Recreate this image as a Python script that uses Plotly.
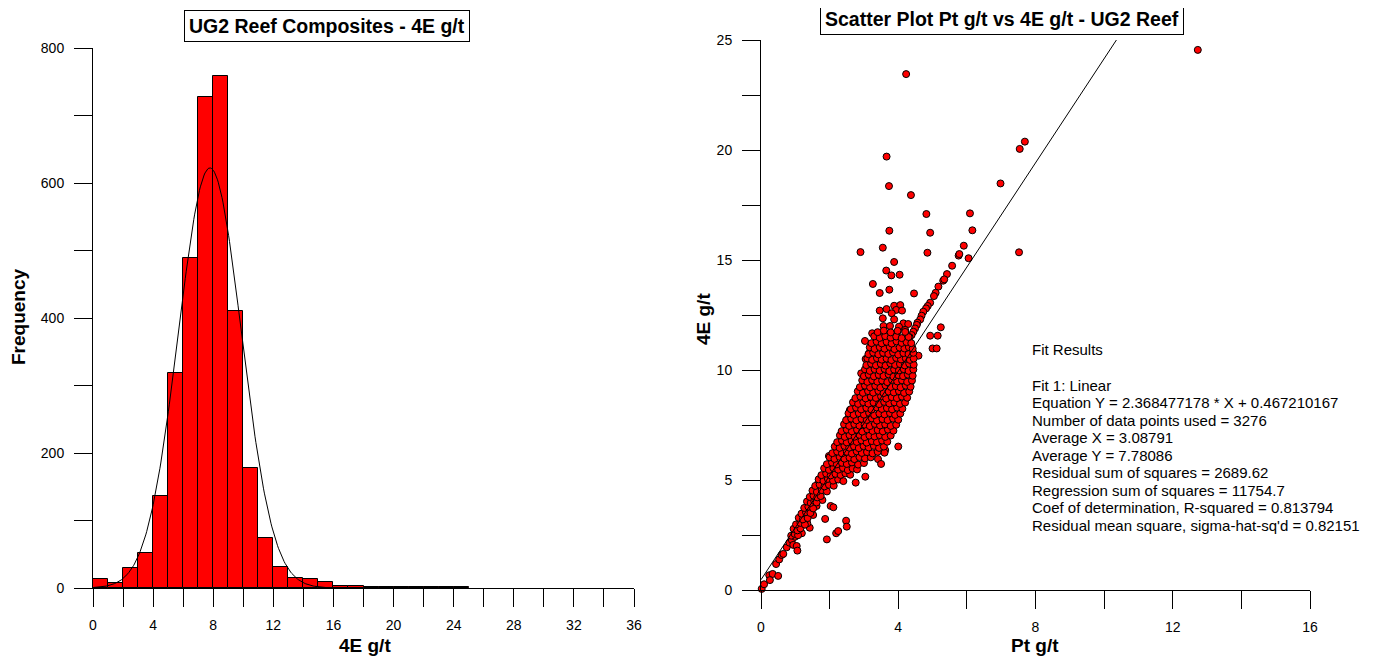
import numpy as np
import plotly.graph_objects as go

# ---------------- Histogram data ----------------
hist_left_edges = list(range(0, 25))
hist_counts = [13, 8, 29, 52, 136, 319, 489, 727, 758, 410, 178, 74, 31, 15, 13, 9,
               3, 3, 2, 1, 2, 1, 1, 1, 1]
bin_width = 1.0
fit_mean = 7.78086
fit_sigma = 2.1
n_points = 3276

hist_xticks = list(range(0, 37, 2))
hist_xlabels = [str(v) if v % 4 == 0 else "" for v in hist_xticks]
hist_yticks = list(range(0, 801, 100))
hist_ylabels = [str(v) if v % 200 == 0 else "" for v in hist_yticks]

# ---------------- Scatter data ----------------
# individually read (sparse) points
sparse_x = [12.73, 4.23, 3.66, 3.73, 4.37, 7.54, 7.69, 6.98, 7.52, 2.90, 3.55, 4.82, 6.09, 3.74,
            4.93, 6.16, 4.85, 5.91, 5.76, 5.78, 6.05, 5.57, 5.42, 5.31, 5.34, 3.88, 3.65, 3.80,
            4.04, 3.26, 3.74, 3.46, 4.46, 5.17, 5.09, 5.04, 4.93, 4.86, 4.81, 4.73, 4.68, 4.64,
            4.56, 4.54, 4.49, 4.44, 4.39, 4.33, 3.46, 3.66, 3.88, 4.06, 3.94, 4.11, 3.81, 3.55,
            3.88, 3.57, 3.76, 4.15, 4.29, 4.02, 3.24, 3.37, 3.52, 3.76, 3.96, 4.20, 5.24, 4.93,
            5.15, 5.00, 5.12, 4.59, 3.03, 3.15, 3.05, 2.92, 3.08, 2.94, 2.59, 2.52, 2.55, 2.35,
            1.92, 2.19, 2.25, 2.48, 2.50, 1.87, 2.03, 2.11, 1.42, 1.35, 1.52, 1.62, 1.79, 3.04,
            2.76, 3.41, 3.50, 3.62, 3.60, 4.00, 3.57, 1.68, 1.63, 1.98,
            0.02, 0.09, 0.24, 0.34, 0.26, 0.50, 0.44, 0.53, 0.60, 0.65, 0.75, 0.83, 0.90, 0.94,
            1.04, 1.06, 0.99, 1.02, 1.19, 1.09, 1.14]
sparse_y = [24.55, 23.45, 19.70, 18.36, 17.95, 20.05, 20.38, 18.48, 15.35, 15.36, 15.56, 17.09,
            17.12, 16.33, 16.24, 16.35, 15.33, 15.65, 15.20, 15.27, 15.08, 14.74, 14.36, 14.06,
            14.12, 14.91, 14.52, 14.30, 14.33, 13.91, 13.65, 13.50, 13.48, 13.79, 13.51, 13.36,
            13.06, 12.91, 12.80, 12.65, 12.47, 12.30, 12.15, 12.05, 11.89, 11.74, 11.59, 11.49,
            12.70, 12.77, 12.92, 12.95, 12.73, 12.70, 12.58, 12.35, 12.30, 12.00, 12.00, 12.12,
            12.09, 11.97, 11.67, 11.59, 11.67, 11.67, 11.67, 11.82, 11.94, 11.56, 11.56, 10.98,
            10.98, 10.65, 11.32, 10.76, 10.50, 9.85, 9.97, 8.99, 8.18, 7.76, 7.60, 6.97,
            2.30, 2.58, 2.68, 3.15, 2.88, 3.23, 3.82, 3.76, 2.83, 3.03, 3.41, 3.82, 4.09, 5.15,
            4.88, 5.95, 5.73, 6.36, 6.24, 6.52, 6.79, 4.92, 4.58, 6.09,
            0.05, 0.26, 0.67, 0.73, 0.45, 0.64, 1.18, 1.39, 1.59, 1.64, 1.94, 2.15, 2.27, 2.05,
            2.00, 1.79, 2.42, 2.58, 2.58, 2.73, 2.88]

# dense core, read row by row: Pt values (x) and matching 4E values (y)
core_x_rows = [
    [0.88, 0.98, 1.08],
    [0.95, 1.06, 1.15],
    [1.02, 1.15, 1.28],
    [1.1, 1.22, 1.36],
    [1.18, 1.31, 1.44],
    [1.26, 1.38, 1.52],
    [1.34, 1.45, 1.55, 1.62],
    [1.42, 1.53, 1.64, 1.74],
    [1.5, 1.63, 1.77, 1.92],
    [1.58, 1.71, 1.85, 1.98, 2.12],
    [1.68, 1.82, 1.95, 2.1, 2.25, 2.4],
    [1.76, 1.9, 2.03, 2.17, 2.32, 2.46, 2.6],
    [1.84, 1.98, 2.11, 2.25, 2.39, 2.53, 2.67, 2.8],
    [1.92, 2.07, 2.21, 2.36, 2.5, 2.65, 2.83, 3.0],
    [2.0, 2.14, 2.29, 2.43, 2.58, 2.72, 2.87, 3.03, 3.2],
    [2.08, 2.22, 2.36, 2.5, 2.65, 2.79, 2.94, 3.09, 3.25, 3.4],
    [2.15, 2.29, 2.43, 2.57, 2.71, 2.85, 2.99, 3.14, 3.29, 3.44, 3.58],
    [2.22, 2.36, 2.5, 2.64, 2.79, 2.93, 3.08, 3.23, 3.38, 3.53, 3.68],
    [2.3, 2.44, 2.58, 2.73, 2.87, 3.02, 3.16, 3.31, 3.46, 3.62, 3.78],
    [2.35, 2.5, 2.65, 2.8, 2.95, 3.1, 3.25, 3.4, 3.55, 3.7, 3.86],
    [2.42, 2.57, 2.72, 2.87, 3.02, 3.17, 3.32, 3.47, 3.62, 3.78, 3.94],
    [2.48, 2.63, 2.78, 2.93, 3.08, 3.23, 3.38, 3.54, 3.69, 3.85, 4.0],
    [2.55, 2.7, 2.85, 3.0, 3.15, 3.3, 3.45, 3.6, 3.76, 3.91, 4.06],
    [2.62, 2.77, 2.92, 3.07, 3.22, 3.37, 3.52, 3.67, 3.82, 3.97, 4.12],
    [2.68, 2.83, 2.98, 3.13, 3.28, 3.44, 3.59, 3.74, 3.89, 4.05, 4.2],
    [2.75, 2.9, 3.05, 3.2, 3.35, 3.5, 3.65, 3.81, 3.96, 4.11, 4.26],
    [2.82, 2.97, 3.12, 3.27, 3.42, 3.57, 3.72, 3.87, 4.02, 4.17, 4.32],
    [2.88, 3.03, 3.18, 3.33, 3.48, 3.63, 3.78, 3.93, 4.07, 4.22, 4.36],
    [2.95, 3.1, 3.24, 3.39, 3.53, 3.68, 3.82, 3.97, 4.11, 4.26, 4.4],
    [3.0, 3.14, 3.29, 3.43, 3.57, 3.72, 3.86, 4.0, 4.14, 4.28, 4.42],
    [3.03, 3.17, 3.31, 3.46, 3.6, 3.74, 3.88, 4.02, 4.16, 4.3, 4.44],
    [3.07, 3.21, 3.35, 3.49, 3.63, 3.77, 3.91, 4.05, 4.19, 4.32, 4.45],
    [3.1, 3.24, 3.38, 3.52, 3.66, 3.8, 3.94, 4.08, 4.22, 4.34, 4.45],
    [3.13, 3.27, 3.42, 3.56, 3.71, 3.85, 4.0, 4.15, 4.3, 4.44],
    [3.17, 3.31, 3.46, 3.6, 3.75, 3.89, 4.04, 4.18, 4.31, 4.42],
    [3.22, 3.37, 3.52, 3.66, 3.81, 3.95, 4.1, 4.24, 4.38],
    [3.3, 3.46, 3.62, 3.78, 3.94, 4.1, 4.3],
    [3.4, 3.58, 3.78, 3.98, 4.2],
]
core_y_rows = [
    [2.47, 2.55, 2.49],
    [2.78, 2.71, 2.8],
    [2.98, 3.05, 2.97],
    [3.28, 3.21, 3.27],
    [3.47, 3.54, 3.5],
    [3.73, 3.79, 3.71],
    [4.02, 3.96, 4.05, 3.98],
    [4.23, 4.29, 4.21, 4.27],
    [4.52, 4.46, 4.54, 4.48],
    [4.73, 4.79, 4.71, 4.78, 4.74],
    [5.03, 4.96, 5.05, 4.97, 5.02, 4.95],
    [5.22, 5.29, 5.21, 5.28, 5.23, 5.3, 5.24],
    [5.53, 5.46, 5.54, 5.47, 5.55, 5.45, 5.52, 5.48],
    [5.72, 5.79, 5.71, 5.78, 5.73, 5.8, 5.7, 5.77],
    [6.03, 5.96, 6.05, 5.97, 6.02, 5.95, 6.04, 5.98, 6.03],
    [6.22, 6.29, 6.21, 6.28, 6.2, 6.3, 6.23, 6.27, 6.21, 6.28],
    [6.52, 6.46, 6.55, 6.47, 6.53, 6.45, 6.54, 6.48, 6.55, 6.46, 6.52],
    [6.72, 6.79, 6.71, 6.78, 6.73, 6.8, 6.7, 6.77, 6.72, 6.79, 6.74],
    [7.03, 6.96, 7.04, 6.97, 7.05, 6.95, 7.02, 6.98, 7.04, 6.96, 7.02],
    [7.22, 7.29, 7.21, 7.28, 7.2, 7.3, 7.23, 7.27, 7.21, 7.29, 7.24],
    [7.53, 7.46, 7.54, 7.47, 7.52, 7.45, 7.55, 7.48, 7.53, 7.46, 7.51],
    [7.72, 7.79, 7.71, 7.78, 7.73, 7.8, 7.7, 7.77, 7.72, 7.79, 7.74],
    [8.03, 7.96, 8.04, 7.97, 8.05, 7.95, 8.02, 7.98, 8.04, 7.96, 8.02],
    [8.22, 8.29, 8.21, 8.28, 8.2, 8.3, 8.23, 8.27, 8.21, 8.29, 8.24],
    [8.53, 8.46, 8.54, 8.47, 8.52, 8.45, 8.55, 8.48, 8.53, 8.46, 8.52],
    [8.72, 8.79, 8.71, 8.78, 8.73, 8.8, 8.7, 8.77, 8.72, 8.79, 8.74],
    [9.03, 8.96, 9.04, 8.97, 9.05, 8.95, 9.02, 8.98, 9.04, 8.96, 9.02],
    [9.22, 9.29, 9.21, 9.28, 9.2, 9.3, 9.23, 9.27, 9.21, 9.29, 9.24],
    [9.53, 9.46, 9.54, 9.47, 9.52, 9.45, 9.55, 9.48, 9.53, 9.46, 9.52],
    [9.72, 9.79, 9.71, 9.78, 9.73, 9.8, 9.7, 9.77, 9.72, 9.79, 9.74],
    [10.03, 9.96, 10.04, 9.97, 10.05, 9.95, 10.02, 9.98, 10.04, 9.96, 10.02],
    [10.22, 10.29, 10.21, 10.28, 10.2, 10.3, 10.23, 10.27, 10.21, 10.29, 10.24],
    [10.53, 10.46, 10.54, 10.47, 10.52, 10.45, 10.55, 10.48, 10.53, 10.46, 10.52],
    [10.72, 10.79, 10.71, 10.78, 10.73, 10.8, 10.7, 10.77, 10.72, 10.78],
    [11.03, 10.96, 11.04, 10.97, 11.05, 10.95, 11.02, 10.98, 11.04, 10.97],
    [11.22, 11.29, 11.21, 11.28, 11.2, 11.3, 11.23, 11.27, 11.22],
    [11.53, 11.46, 11.54, 11.47, 11.52, 11.45, 11.5],
    [11.72, 11.79, 11.71, 11.78, 11.73],
]

fit_slope = 2.368477178
fit_intercept = 0.467210167

sc_xticks = list(range(0, 17, 2))
sc_xlabels = [str(v) if v % 4 == 0 else "" for v in sc_xticks]
sc_yticks = [0, 2.5, 5, 7.5, 10, 12.5, 15, 17.5, 20, 22.5, 25]
sc_ylabels = ["0", "", "5", "", "10", "", "15", "", "20", "", "25"]

fit_text_lines = [
    "Fit Results",
    "",
    "Fit 1: Linear",
    "Equation Y = 2.368477178 * X + 0.467210167",
    "Number of data points used = 3276",
    "Average X = 3.08791",
    "Average Y = 7.78086",
    "Residual sum of squares = 2689.62",
    "Regression sum of squares = 11754.7",
    "Coef of determination, R-squared = 0.813794",
    "Residual mean square, sigma-hat-sq'd = 0.82151",
]

# ---------------- Build figure ----------------
PAGE_OFFSET = 8          # default body margin of the html page
W, H = 1386 - PAGE_OFFSET, 659 - PAGE_OFFSET
FONT = "Liberation Sans, Arial, sans-serif"

def px_x(p):
    return (p - PAGE_OFFSET) / W

def px_y(p):
    return 1 - (p - PAGE_OFFSET) / H

fig = go.Figure()

# Histogram bars
fig.add_trace(go.Bar(
    x=[e + bin_width / 2 for e in hist_left_edges], y=hist_counts, width=bin_width,
    marker=dict(color="#ff0000", line=dict(color="black", width=1)),
    xaxis="x", yaxis="y", showlegend=False, hoverinfo="x+y"))

# Fitted normal curve (from the sample mean, sigma and count)
cx = np.linspace(0, 25, 400)
cy = n_points * bin_width / (fit_sigma * np.sqrt(2 * np.pi)) * np.exp(-0.5 * ((cx - fit_mean) / fit_sigma) ** 2)
fig.add_trace(go.Scatter(x=cx, y=cy, mode="lines", line=dict(color="black", width=1),
                         xaxis="x", yaxis="y", showlegend=False, hoverinfo="skip"))

# Scatter points
all_x = list(sparse_x)
all_y = list(sparse_y)
for rxs, rys in zip(core_x_rows, core_y_rows):
    all_x.extend(rxs)
    all_y.extend(rys)

fig.add_trace(go.Scatter(
    x=all_x, y=all_y, mode="markers",
    marker=dict(color="#ff0000", size=7, line=dict(color="black", width=1)),
    xaxis="x2", yaxis="y2", showlegend=False, cliponaxis=False))

# Fit line, clipped at top of axis
x_end = (25 - fit_intercept) / fit_slope
fig.add_trace(go.Scatter(
    x=[0, x_end], y=[fit_intercept, fit_slope * x_end + fit_intercept], mode="lines",
    line=dict(color="black", width=1), xaxis="x2", yaxis="y2", showlegend=False,
    hoverinfo="skip"))

axis_common = dict(showline=True, linecolor="black", linewidth=1, ticks="outside",
                   ticklen=18, tickcolor="black", tickwidth=1, showgrid=False,
                   zeroline=False, automargin=False,
                   tickfont=dict(family=FONT, size=14, color="black"))
x_extra = dict(ticklabelstandoff=6)
y_extra = dict(ticklabelstandoff=7)

fig.update_layout(
    width=W, height=H,
    margin=dict(l=0, r=0, t=0, b=0, pad=0, autoexpand=False),
    paper_bgcolor="white", plot_bgcolor="white",
    font=dict(family=FONT, color="black"),
    bargap=0,
    xaxis=dict(domain=[px_x(93), px_x(634)], range=[0, 36], tickvals=hist_xticks,
               ticktext=hist_xlabels, anchor="y", **axis_common, **x_extra),
    yaxis=dict(domain=[px_y(588), px_y(48)], range=[0, 800], tickvals=hist_yticks,
               ticktext=hist_ylabels, anchor="x", **axis_common, **y_extra),
    xaxis2=dict(domain=[px_x(761), px_x(1310)], range=[0, 16], tickvals=sc_xticks,
                ticktext=sc_xlabels, anchor="y2", **axis_common, **x_extra),
    yaxis2=dict(domain=[px_y(590), px_y(40)], range=[0, 25], tickvals=sc_yticks,
                ticktext=sc_ylabels, anchor="x2", **axis_common, **y_extra),
)

title_font = dict(family=FONT, size=19.5, color="black")
label_font = dict(family=FONT, size=19, color="black")
annotations = [
    dict(text="<b>UG2 Reef Composites - 4E g/t</b>", x=px_x(327), y=px_y(26),
         xref="paper", yref="paper", xanchor="center", yanchor="middle", showarrow=False,
         font=title_font, bordercolor="black", borderwidth=1, borderpad=4, bgcolor="white"),
    dict(text="<b>Scatter Plot Pt g/t vs 4E g/t - UG2 Reef</b>", x=px_x(1002), y=px_y(19),
         xref="paper", yref="paper", xanchor="center", yanchor="middle", showarrow=False,
         font=title_font, bordercolor="black", borderwidth=1, borderpad=4, bgcolor="white"),
    dict(text="<b>4E g/t</b>", x=px_x(365), y=px_y(645), xref="paper", yref="paper",
         xanchor="center", yanchor="middle", showarrow=False, font=label_font),
    dict(text="<b>Frequency</b>", x=px_x(18), y=px_y(317), xref="paper", yref="paper",
         xanchor="center", yanchor="middle", showarrow=False, font=label_font, textangle=-90),
    dict(text="<b>Pt g/t</b>", x=px_x(1035), y=px_y(645), xref="paper", yref="paper",
         xanchor="center", yanchor="middle", showarrow=False, font=label_font),
    dict(text="<b>4E g/t</b>", x=px_x(703), y=px_y(319), xref="paper", yref="paper",
         xanchor="center", yanchor="middle", showarrow=False, font=label_font, textangle=-90),
]
# fit results block, one annotation per line (line pitch ~17.6 px)
for i, line in enumerate(fit_text_lines):
    if not line:
        continue
    annotations.append(dict(
        text=line, x=px_x(1030), y=px_y(350 + 17.55 * i), xref="paper", yref="paper",
        xanchor="left", yanchor="middle", align="left", showarrow=False,
        font=dict(family=FONT, size=15, color="black")))
fig.update_layout(annotations=annotations)

fig.write_html("out.html")
